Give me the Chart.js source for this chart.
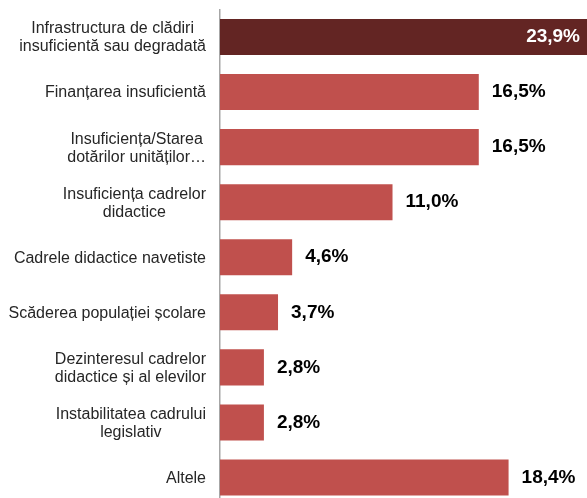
<!DOCTYPE html>
<html>
<head>
<meta charset="utf-8">
<script src="https://cdn.jsdelivr.net/npm/chart.js@4"></script>
<style>
  html, body { margin: 0; padding: 0; background: #fff; overflow: hidden; }
  #wrap { width: 587px; height: 505px; position: relative; }
</style>
</head>
<body>
<div id="wrap"><canvas id="chart"></canvas></div>
<script>
// --- DATA ---
const categories = [
    ['Infrastructura de clădiri', 'insuficientă sau degradată'],
    ['Finanțarea insuficientă'],
    ['Insuficiența/Starea', 'dotărilor unităților…'],
    ['Insuficiența cadrelor', 'didactice'],
    ['Cadrele didactice navetiste'],
    ['Scăderea populației școlare'],
    ['Dezinteresul cadrelor', 'didactice și al elevilor'],
    ['Instabilitatea cadrului', 'legislativ'],
    ['Altele']
];
const values = [23.9, 16.5, 16.5, 11.0, 4.6, 3.7, 2.8, 2.8, 18.4];
const valueLabels = ['23,9%', '16,5%', '16,5%', '11,0%', '4,6%', '3,7%', '2,8%', '2,8%', '18,4%'];

const DARK = '#632523';
const RED = '#C0504D';
const AXIS_W = 220;

// labels on the left, each line centred inside its own block, block right-aligned
const catLabels = {
    id: 'catLabels',
    afterDraw(chart) {
        const ctx = chart.ctx;
        const y = chart.scales.y;
        const right = chart.chartArea.left - 14;
        const lh = 18;
        ctx.save();
        ctx.font = '16px "Liberation Sans", Arial, sans-serif';
        ctx.fillStyle = '#262626';
        ctx.textAlign = 'center';
        ctx.textBaseline = 'middle';
        categories.forEach((lines, i) => {
            const cy = y.getPixelForValue(i);
            const w = Math.max(...lines.map(l => ctx.measureText(l).width));
            const cx = right - w / 2;
            lines.forEach((l, j) => {
                ctx.fillText(l, cx, cy + 1 + (j - (lines.length - 1) / 2) * lh);
            });
        });
        ctx.restore();
    }
};

// value labels: inside the bar when it runs past the edge, else just outside
const valLabels = {
    id: 'valLabels',
    afterDatasetsDraw(chart) {
        const ctx = chart.ctx;
        const meta = chart.getDatasetMeta(0);
        const area = chart.chartArea;
        ctx.save();
        ctx.font = 'bold 19px "Liberation Sans", Arial, sans-serif';
        ctx.textBaseline = 'middle';
        meta.data.forEach((bar, i) => {
            if (bar.x >= area.right) {
                ctx.fillStyle = '#fff';
                ctx.textAlign = 'right';
                ctx.fillText(valueLabels[i], area.right - 7, bar.y);
            } else {
                ctx.fillStyle = '#000';
                ctx.textAlign = 'left';
                ctx.fillText(valueLabels[i], bar.x + 13, bar.y);
            }
        });
        ctx.restore();
    }
};

new Chart(document.getElementById('chart'), {
    type: 'bar',
    data: {
        labels: categories.map(c => c.join(' ')),
        datasets: [{
            data: values,
            backgroundColor: values.map((_, i) => i === 0 ? DARK : RED),
            categoryPercentage: 1,
            barPercentage: 0.655
        }]
    },
    options: {
        indexAxis: 'y',
        responsive: true,
        maintainAspectRatio: false,
        animation: false,
        layout: { padding: { top: 9.5, right: 0, bottom: 0, left: 0 } },
        plugins: { legend: { display: false }, tooltip: { enabled: false } },
        scales: {
            x: { display: false, min: 0, max: 23.4 },
            y: {
                afterFit: s => { s.width = AXIS_W; },
                grid: { display: false, drawTicks: false },
                border: { display: true, color: '#a6a6a6', width: 1.5 },
                ticks: { display: false }
            }
        }
    },
    plugins: [catLabels, valLabels]
});
</script>
</body>
</html>
